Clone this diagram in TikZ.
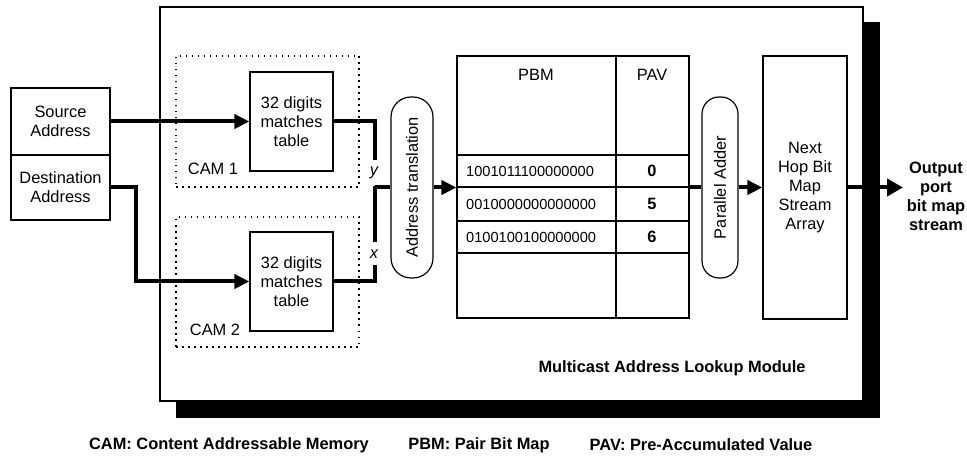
\documentclass[tikz,border=0pt]{standalone}
\usepackage{fontspec}
\setmainfont{Liberation Sans}
\usetikzlibrary{arrows.meta}
\begin{document}
\begin{tikzpicture}[x=1pt,y=-1pt,
  every node/.style={font=\fontsize{16.4}{19}\selectfont, align=center, inner sep=0pt},
  box/.style={draw, line width=1.2pt, fill=white},
  camzone/.style={draw, line width=1.5pt, dash pattern=on 1.5pt off 4.5pt},
  rbox/.style={draw, line width=1.2pt, fill=white},
  wire/.style={line width=4pt},
  arr/.style={line width=4pt, -{Triangle[length=15pt,width=14pt]}},
  bold/.style={font=\fontsize{16.4}{19}\selectfont\bfseries},
  digits/.style={font=\fontsize{14.6}{17}\selectfont, anchor=west},
  grid/.style={line width=1.2pt},
]
\useasboundingbox (0,0) rectangle (967,457);

% module with shadow
\fill (176,22) rectangle (880,418);
\node[draw, line width=1.5pt, fill=white, minimum width=703, minimum height=394] (mod) at (511.5,204) {};

% inputs
\node[box, minimum width=99, minimum height=67] (src) at (60.5,121.5) {Source\\Address};
\node[box, minimum width=99, minimum height=65] (dst) at (60.5,187.5) {Destination\\Address};

% CAM zones
\node[camzone, minimum width=183, minimum height=131] (cam1) at (267.5,121.5) {};
\node (cam1lbl) at (213,169) {CAM 1};
\node[box, minimum width=83, minimum height=99] (t1) at (291.5,121.5) {32 digits\\matches\\table};

\node[camzone, minimum width=183, minimum height=130] (cam2) at (267.5,282) {};
\node (cam2lbl) at (215,330) {CAM 2};
\node[box, minimum width=83, minimum height=99] (t2) at (291.5,281.5) {32 digits\\matches\\table};

% address translation
\node[rbox, rounded corners=20pt, minimum width=42, minimum height=181] (atr) at (412,187.5) {};
\node[rotate=90] (atrlbl) at (atr.center) {Address translation};

% table
\node[box, minimum width=232, minimum height=262] (tbl) at (573,187) {};
\draw[grid] (616,56) -- (616,318);
\draw[grid] (457,155) -- (689,155);
\draw[grid] (457,187) -- (689,187);
\draw[grid] (457,221) -- (689,221);
\draw[grid] (457,253) -- (689,253);
\node (pbmh) at (536,75) {PBM};
\node (pavh) at (652,75) {PAV};
\node[digits] (r1) at (466,171) {1001011100000000};
\node[digits] (r2) at (466,204) {0010000000000000};
\node[digits] (r3) at (466,237) {0100100100000000};
\node[bold] (v1) at (652,171) {0};
\node[bold] (v2) at (652,204) {5};
\node[bold] (v3) at (652,237) {6};

% parallel adder
\node[rbox, rounded corners=17pt, minimum width=36, minimum height=181] (pa) at (720,187.5) {};
\node[rotate=90] (palbl) at (pa.center) {Parallel Adder};

% next hop
\node[box, minimum width=84, minimum height=263] (nh) at (805,187.5) {Next\\Hop Bit\\Map\\Stream\\Array};

% connectors
\coordinate (ya) at (375,160);
\coordinate (yb) at (375,186);
\coordinate (xa) at (375,242);
\coordinate (xb) at (375,265);
\coordinate (otip) at (903,187.5);

\draw[arr] (src.east) -- (t1.west);
\draw[arr] (dst.east) -- ++(25,0) |- (t2.west);
\draw[wire] (t1.east) -| (ya);
\draw[wire] (yb) -- (xa);
\draw[wire] (yb) |- (atr.west);
\draw[wire] (xb) |- (t2.east);
\node[font=\fontsize{16.4}{19}\selectfont\itshape] (ylbl) at (374,173) {y};
\node[font=\fontsize{16.4}{19}\selectfont\itshape] (xlbl) at (374,254) {x};

\draw[arr] (atr.east) -- (atr.east -| tbl.west);
\draw[wire] (tbl.east |- pa.west) -- (pa.west);
\draw[arr] (pa.east) -- (nh.west);
\draw[line width=4pt, -{Triangle[length=16pt,width=17pt]}] (nh.east) -- (otip);
\node[bold] (outlbl) at (936,196) {Output\\port\\bit map\\stream};

% labels
\node[bold] (mlbl) at (672,368) {Multicast Address Lookup Module};
\node[bold] (leg1) at (229,445) {CAM: Content Addressable Memory};
\node[bold] (leg2) at (479,445) {PBM: Pair Bit Map};
\node[bold] (leg3) at (701,445) {PAV: Pre-Accumulated Value};
\end{tikzpicture}
\end{document}
